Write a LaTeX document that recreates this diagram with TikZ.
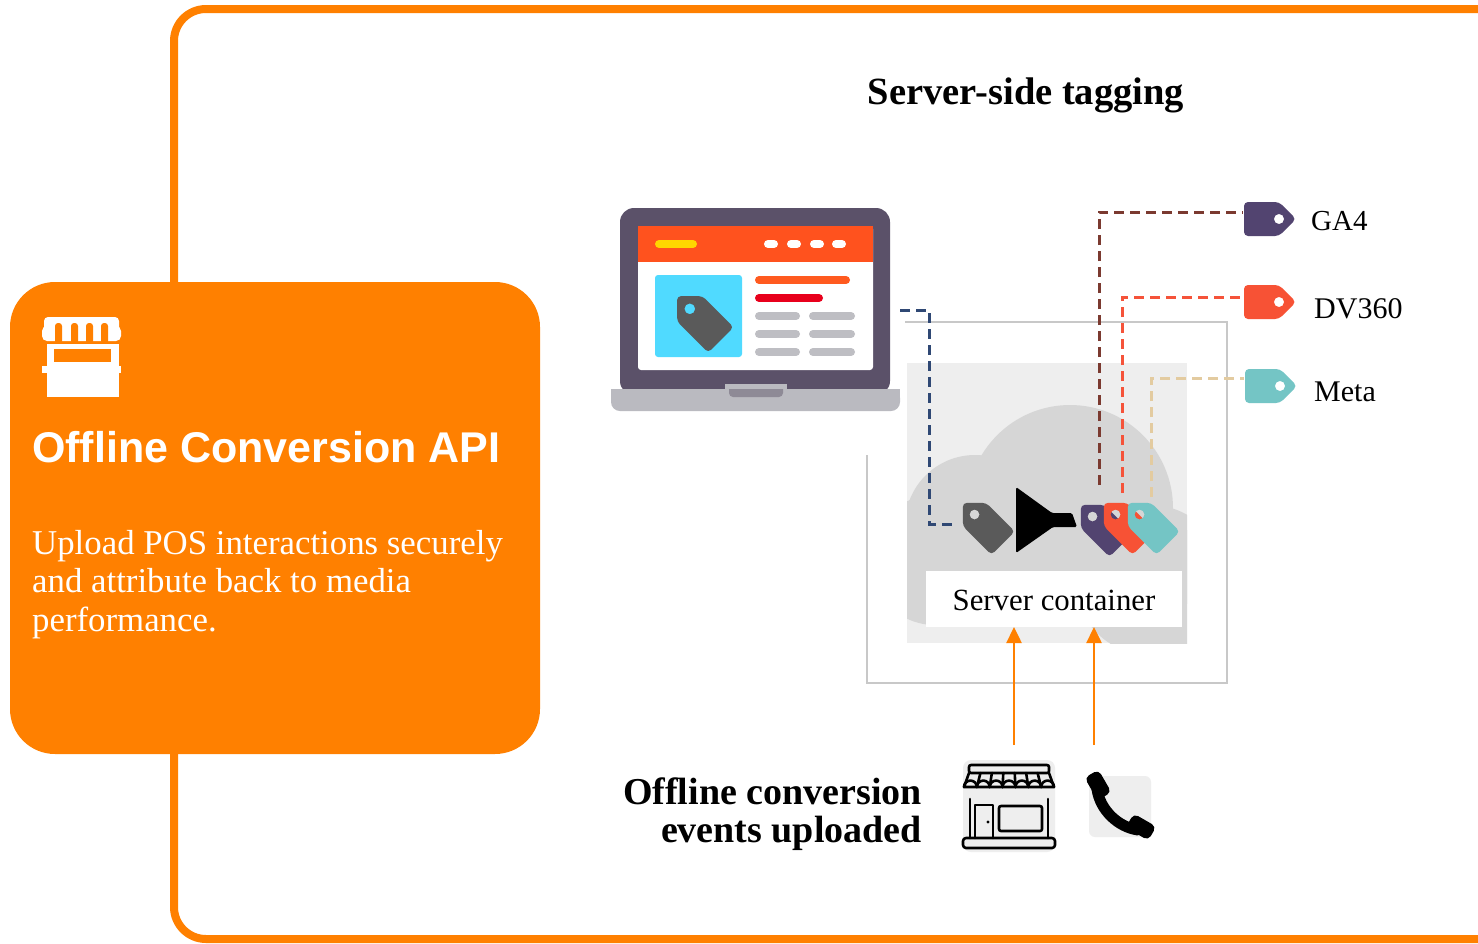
\documentclass[tikz,border=0pt]{standalone}
\usepackage{fontspec}
\setmainfont{Liberation Serif}
\newfontfamily\headsans{Liberation Sans}
\usetikzlibrary{arrows.meta}

\definecolor{brandorange}{RGB}{255,128,0}
\definecolor{laptopbody}{RGB}{91,81,105}
\definecolor{laptopbase}{RGB}{186,186,192}
\definecolor{laptopnotch}{RGB}{142,138,150}
\definecolor{screenhead}{RGB}{255,82,30}
\definecolor{pillyellow}{RGB}{255,214,0}
\definecolor{skyblue}{RGB}{80,218,255}
\definecolor{taggray}{RGB}{90,90,90}
\definecolor{lineorange}{RGB}{255,90,31}
\definecolor{linered}{RGB}{232,0,28}
\definecolor{pillgray}{RGB}{190,190,195}
\definecolor{tagpurple}{RGB}{82,68,112}
\definecolor{tagred}{RGB}{247,82,53}
\definecolor{tagteal}{RGB}{116,197,197}
\definecolor{gabrown}{RGB}{123,58,48}
\definecolor{dvred}{RGB}{245,83,58}
\definecolor{metatan}{RGB}{227,203,160}
\definecolor{navyline}{RGB}{47,72,116}
\definecolor{panelgray}{RGB}{238,238,238}
\definecolor{cloudgray}{RGB}{214,214,214}
\definecolor{boxedge}{RGB}{200,200,200}

% price tag: centre, rotation, length, height, colour; the hole is cut out
\newcommand{\drawpricetag}[6]{%
  \begin{scope}[shift={(#1,#2)},rotate=#3]
    \fill[#6,even odd rule,rounded corners=4pt]
      ({-#4/2},{-#5/2}) -- ({#4/2-#5/2},{-#5/2}) -- ({#4/2},0)
      -- ({#4/2-#5/2},{#5/2}) -- ({-#4/2},{#5/2}) -- cycle
      ({#4/2-#5/2},0) circle ({0.15*#5});
  \end{scope}}

\tikzset{
  flowdash/.style={line width=3pt,dash pattern=on 10pt off 6pt},
  uparrow/.style={brandorange,line width=2.5pt,-{Triangle[width=15pt,length=16pt]}},
  pill/.style={line width=8pt,line cap=round},
  lbl/.style={inner sep=0pt,font=\fontsize{29}{34}\selectfont},
  iconline/.style={line width=2.6pt,line join=round,line cap=round}
}

\begin{document}
\begin{tikzpicture}[x=1pt,y=-1pt]
\useasboundingbox (0,0) rectangle (1478,943);
\clip (0,0) rectangle (1478,943);
\fill[white] (0,0) rectangle (1478,943);

% outer frame
\draw[brandorange,line width=8pt,rounded corners=32pt] (174,9) rectangle (1512,939);

% left card
\fill[brandorange,rounded corners=45pt] (10,282) rectangle (540,754);

% market stall icon
\begin{scope}[white]
  \fill[rounded corners=4pt] (44,317) rectangle (119,334);
  \fill[rounded corners=5pt] (42,326) rectangle (121,341);
  \fill[brandorange,rounded corners=3pt] (55,323) rectangle (62,344);
  \fill[brandorange,rounded corners=3pt] (71,323) rectangle (78,344);
  \fill[brandorange,rounded corners=3pt] (86,323) rectangle (93,344);
  \fill[brandorange,rounded corners=3pt] (101,323) rectangle (108,344);
  \fill (47,344) rectangle (119,397);
  \fill[brandorange] (54,349) rectangle (111,362);
  \fill (42,366) rectangle (121,373);
\end{scope}

\node[lbl,anchor=base west,text=white,font=\headsans\bfseries\fontsize{43}{50}\selectfont] (cardtitle) at (32,462) {Offline Conversion API};
\node[lbl,anchor=base west,text=white,font=\fontsize{34.8}{39}\selectfont] (cardl1) at (32,554) {Upload POS interactions securely};
\node[lbl,anchor=base west,text=white,font=\fontsize{34.8}{39}\selectfont] (cardl2) at (32,592) {and attribute back to media};
\node[lbl,anchor=base west,text=white,font=\fontsize{34.8}{39}\selectfont] (cardl3) at (32,631) {performance.};

% heading
\node[lbl,anchor=base,font=\bfseries\fontsize{38.5}{42}\selectfont] (heading) at (1026,104) {Server-side tagging};

% server box
\fill[white] (867,322) rectangle (1227,683);
\draw[boxedge,line width=2.5pt] (867,322) rectangle (1227,683);
\fill[panelgray] (907,363) rectangle (1187,643);
\begin{scope}
  \clip (907,363) rectangle (1187,643);
  \fill[cloudgray] (1070,508) circle (103);
  \fill[cloudgray] (975,525) circle (70);
  \fill[cloudgray] (935,560) circle (65);
  \fill[cloudgray] (1150,580) circle (75);
  \fill[cloudgray,rounded corners=15pt] (890,530) rectangle (1200,604);
\end{scope}

% laptop (white surround keeps the box edge clear)
\fill[white] (600,195) rectangle (905,455);
\fill[laptopbody,rounded corners=14pt] (620,208) rectangle (890,395);
\fill[white,rounded corners=3pt] (638,226) rectangle (873,370);
\fill[screenhead] (638,226) rectangle (873,262);
\draw[pill,pillyellow] (659,244) -- (693,244);
\foreach \dx in {771,794,817,839} \draw[pill,white] (\dx-3,244) -- (\dx+3,244);
\fill[skyblue,rounded corners=3pt] (655,275) rectangle (742,357);
\drawpricetag{699}{318}{135}{62}{36}{taggray}
\draw[pill,lineorange] (759,280) -- (846,280);
\draw[pill,linered] (759,298) -- (819,298);
\foreach \ly in {316,334,352} {
  \draw[pill,pillgray] (759,\ly) -- (796,\ly);
  \draw[pill,pillgray] (813,\ly) -- (851,\ly);
}
\fill[laptopbase,rounded corners=9pt] (611,389) rectangle (900,411);
\fill[laptopbase] (611,389) rectangle (900,398);
\fill[laptopnotch,rounded corners=4pt] (729,384) rectangle (783,397);
\fill[laptopbase] (725,384) rectangle (787,389);

% tags inside the container
\drawpricetag{983}{523}{135}{57}{33}{taggray}
\fill[black,rounded corners=1.5pt] (1016,487) -- (1052,513) -- (1072,513) -- (1077,527) -- (1053,527) -- (1016,553) -- cycle;
\drawpricetag{1101}{525}{135}{57}{33}{tagpurple}
\drawpricetag{1124}{523}{135}{57}{33}{tagred}
\drawpricetag{1148}{523}{135}{57}{33}{tagteal}

% destination tags
\drawpricetag{1270}{219}{0}{52}{34}{tagpurple}
\drawpricetag{1270}{302}{0}{52}{34}{tagred}
\drawpricetag{1271}{386}{0}{52}{34}{tagteal}
\node[lbl,anchor=base west] (ga) at (1311,230) {GA4};
\node[lbl,anchor=base west,font=\fontsize{30}{34}\selectfont] (dv) at (1314,318) {DV360};
\node[lbl,anchor=base west,font=\fontsize{30}{34}\selectfont] (meta) at (1314,401) {Meta};

% connector end points
\coordinate (lapOut) at (900,310);
\coordinate (greyIn) at (958,524);
\coordinate (gaFrom) at (1099,485);
\coordinate (gaTo) at (1243,212);
\coordinate (dvFrom) at (1122,493);
\coordinate (dvTo) at (1243,297);
\coordinate (metaFrom) at (1151,497);
\coordinate (metaTo) at (1244,378);

\draw[flowdash,navyline] (lapOut) -- ++(29,0) |- (greyIn);
\draw[flowdash,gabrown] (gaFrom) |- (gaTo);
\draw[flowdash,dvred] (dvFrom) |- (dvTo);
\draw[flowdash,metatan] (metaFrom) |- (metaTo);

% container label
\fill[white] (926,571) rectangle (1182,627);
\node[lbl,font=\fontsize{30.8}{34}\selectfont,anchor=base] (container) at (1054,610) {Server container};

% uploads
\coordinate (storeUp) at (1014,745);
\coordinate (phoneUp) at (1094,745);
\coordinate (inA) at (1014,627);
\coordinate (inB) at (1094,627);
\draw[uparrow] (storeUp) -- (inA);
\draw[uparrow] (phoneUp) -- (inB);

\node[lbl,anchor=base east,font=\bfseries\fontsize{38}{40}\selectfont] (off1) at (922,804) {Offline conversion};
\node[lbl,anchor=base east,font=\bfseries\fontsize{38}{40}\selectfont] (off2) at (922,842) {events uploaded};

% shop front icon
\fill[panelgray,rounded corners=8pt] (963,760) rectangle (1055,852);
\begin{scope}[iconline]
  \draw[rounded corners=2pt] (969,765) rectangle (1049,773);
  \draw (969,773) -- (964,787) -- (1054,787) -- (1049,773);
  \foreach \k in {0,...,6} {
    \pgfmathsetmacro{\sx}{964+\k*12.857}
    \draw (\sx,787) arc[start angle=180,end angle=360,radius=6.43];
  }
  \foreach \k in {1,...,6} {
    \pgfmathsetmacro{\tx}{969+\k*11.43}
    \pgfmathsetmacro{\bx}{964+\k*12.857}
    \draw (\tx,773) -- (\bx,787);
  }
  \draw (970,799) -- (970,838);
  \draw (1048,799) -- (1048,838);
  \draw (975,838) -- (975,805) -- (993,805) -- (993,838);
  \fill (988,822) circle (1.6);
  \draw[rounded corners=2pt] (999,806) rectangle (1042,831);
  \draw[rounded corners=3pt] (963,838) rectangle (1055,848);
\end{scope}

% phone icon
\fill[panelgray,rounded corners=6pt] (1089,776) rectangle (1151,837);
\draw[line width=11pt,line cap=round] (1097,789) .. controls (1100,810) and (1118,827) .. (1138,830);
\begin{scope}[shift={(1098,785)},rotate=-60]
  \fill[rounded corners=5pt] (-13,-8) rectangle (13,8);
\end{scope}
\begin{scope}[shift={(1141,827)},rotate=-30]
  \fill[rounded corners=5pt] (-13,-8) rectangle (13,8);
\end{scope}
\end{tikzpicture}
\end{document}
